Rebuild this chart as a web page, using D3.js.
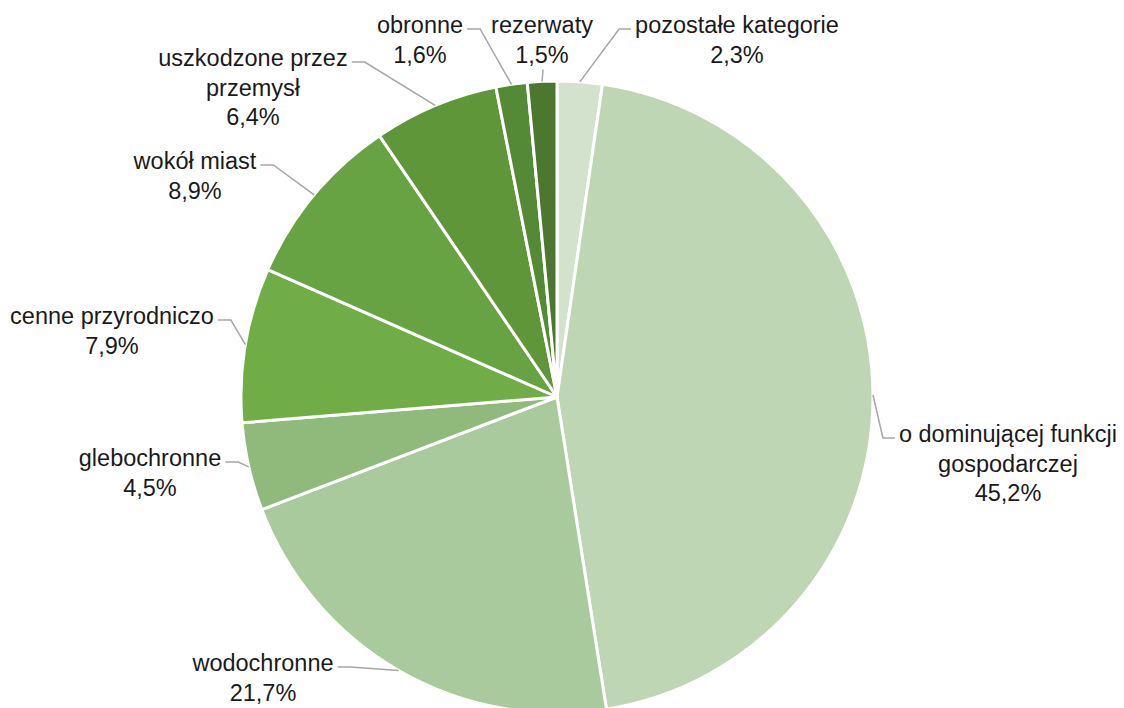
<!DOCTYPE html>
<html>
<head>
<meta charset="utf-8">
<script src="https://cdn.jsdelivr.net/npm/d3@7"></script>
<style>
  html, body { margin: 0; padding: 0; background: #fff; }
  svg text { font-family: "Liberation Sans", Arial, sans-serif; }
</style>
</head>
<body>
<svg id="chart" width="1124" height="708"></svg>
<script>
'use strict';

// slices in clockwise order starting at 12 o'clock
var categories = [
    ["pozostałe kategorie"],
    ["o dominującej funkcji", "gospodarczej"],
    ["wodochronne"],
    ["glebochronne"],
    ["cenne przyrodniczo"],
    ["wokół miast"],
    ["uszkodzone przez", "przemysł"],
    ["obronne"],
    ["rezerwaty"]
];
var shares = [2.3, 45.2, 21.7, 4.5, 7.9, 8.9, 6.4, 1.6, 1.5];
var colors = ["#D3E2CD", "#BED6B4", "#A9CA9C", "#8FBA7C", "#70AD47", "#67A343", "#5E9639", "#548A35", "#4B772F"];

// label placement: text centre x, first baseline y, which side the leader joins
var labelLayout = [
    {x: 737, y: 33, side: "R"},
    {x: 1008, y: 442, side: "R"},
    {x: 263, y: 671, side: "L"},
    {x: 150, y: 466, side: "L"},
    {x: 112, y: 324, side: "L"},
    {x: 195, y: 169, side: "L"},
    {x: 253, y: 66, side: "L"},
    {x: 420, y: 33, side: "L"},
    {x: 542, y: 33, side: "B"}
];

var cx = 557, cy = 397, radius = 316;
var lineH = 29.5;

var svg = d3.select("#chart");
var g = svg.append("g").attr("transform", "translate(" + cx + "," + cy + ")");

var pie = d3.pie().sort(null).value(d => d);
var arcs = pie(shares);

var arc = d3.arc().innerRadius(0).outerRadius(radius);
var edgeArc = d3.arc().innerRadius(radius).outerRadius(radius);

g.selectAll("path.slice")
    .data(arcs)
    .enter().append("path")
    .attr("class", "slice")
    .attr("d", arc)
    .attr("fill", (d, i) => colors[i])
    .attr("stroke", "#fff")
    .attr("stroke-width", 3)
    .attr("stroke-linejoin", "round");

var fmt = v => v.toFixed(1).replace(".", ",") + "%";

var labels = svg.append("g");
var leaders = svg.append("g");

arcs.forEach(function (d, i) {
    var lay = labelLayout[i];
    var lines = categories[i].concat([fmt(shares[i])]);

    var t = labels.append("text")
        .attr("text-anchor", "middle")
        .attr("font-size", "23.5px")
        .attr("fill", "#1a1a1a");
    lines.forEach(function (s, k) {
        t.append("tspan")
            .attr("x", lay.x)
            .attr("y", lay.y + k * lineH)
            .text(s);
    });

    // leader line from the slice edge to the label
    var p = edgeArc.centroid(d);
    var sx = cx + p[0], sy = cy + p[1];
    var w = t.select("tspan").node().getComputedTextLength();
    var pts;
    if (lay.side == "L") {
        var ex = lay.x + w / 2 + 4, ey = lay.y - 4;
        pts = [[sx, sy], [ex + 13, ey], [ex, ey]];
    } else if (lay.side == "R") {
        var ex2 = lay.x - w / 2 - 4, ey2 = lay.y - 4;
        pts = [[sx, sy], [ex2 - 12, ey2], [ex2, ey2]];
    } else {
        pts = [[sx, sy], [lay.x + 1, lay.y + lineH + 7]];
    }
    leaders.append("path")
        .attr("d", d3.line()(pts))
        .attr("fill", "none")
        .attr("stroke", "#A6A6A6")
        .attr("stroke-width", 1.5);
});
</script>
</body>
</html>
